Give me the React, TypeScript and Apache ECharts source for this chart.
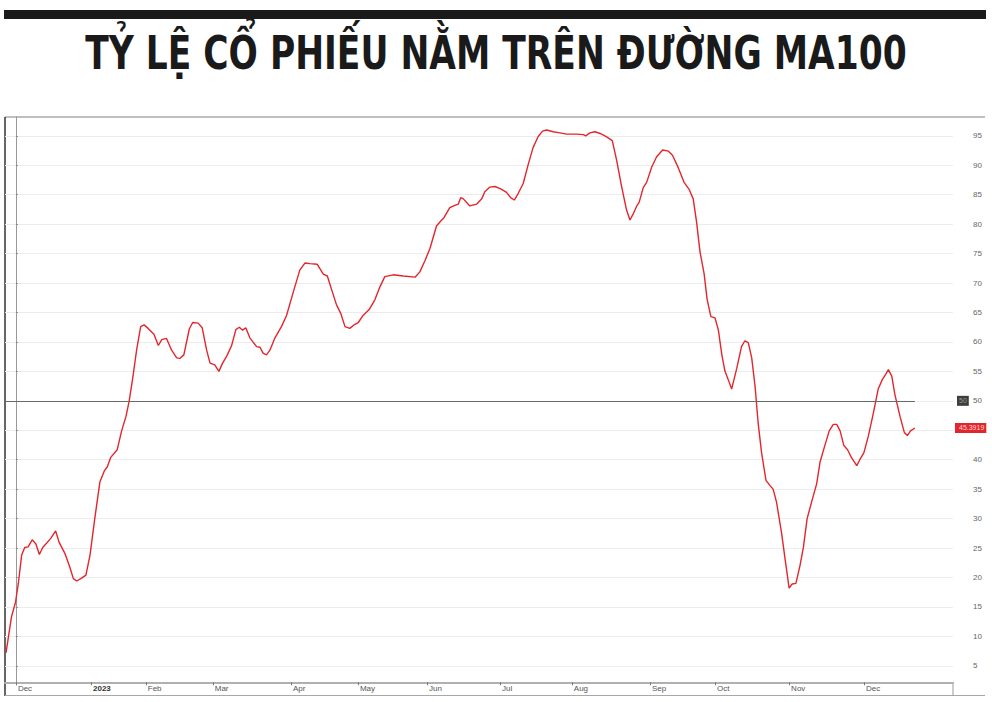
import React, { useEffect, useRef } from "react";
import * as echarts from "echarts";

// Trading-day index (days since 1 Dec 2022) and share of stocks above MA100 (%)
const dayIdx = [
  -2.9, -1.3, -0.1, 0.7, 1.7, 2.6, 3.6, 4.8, 5.9, 6.9, 7.9, 9.0, 10.2, 11.7, 12.7, 14.4, 15.9, 16.9, 17.9, 19.1,
  20.6, 21.8, 23.2, 24.7, 26.0, 26.9, 27.9, 29.8, 31.1, 32.4, 33.3, 34.3, 35.5, 36.7, 37.7, 38.9, 40.6, 41.9, 42.9, 44.3,
  45.8, 47.3, 48.2, 49.4, 51.0, 52.0, 53.6, 54.8, 56.1, 57.1, 58.5, 59.7, 60.8, 62.0, 63.4, 64.7, 65.7, 66.7, 67.6, 68.8,
  70.8, 71.8, 72.7, 73.7, 74.7, 76.2, 78.1, 79.6, 81.6, 83.5, 85.0, 86.5, 88.6, 90.4, 91.6, 92.9, 94.3, 95.5, 96.8, 98.2,
  99.7, 100.7, 102.1, 103.9, 105.6, 107.1, 108.5, 111.0, 113.9, 117.4, 118.8, 120.3, 121.8, 123.7, 124.9, 125.9, 127.6, 129.1, 130.1, 130.8,
  131.6, 133.5, 135.5, 137.0, 137.9, 139.4, 140.9, 142.6, 144.3, 145.5, 146.6, 147.7, 149.2, 150.7, 152.1, 153.6, 154.9, 156.1, 158.0, 160.0,
  162.0, 164.9, 166.9, 167.6, 168.8, 170.3, 171.8, 173.5, 175.4, 176.7, 178.1, 179.6, 180.6, 181.6, 182.6, 183.3, 184.5, 185.5, 187.0, 188.4,
  190.2, 191.9, 193.1, 194.8, 196.5, 198.0, 199.2, 200.2, 201.2, 202.4, 203.3, 204.4, 205.6, 206.6, 207.6, 208.5, 209.5, 210.5, 212.0, 213.4,
  214.4, 215.4, 216.4, 217.4, 218.3, 219.3, 220.6, 221.8, 222.7, 223.7, 225.2, 226.2, 227.4, 228.3, 229.4, 230.6, 231.6, 232.7, 234.0, 235.5,
  236.5, 237.9, 239.2, 240.4, 241.4, 242.4, 243.5, 244.6, 245.8, 247.3, 248.2, 249.4, 250.7, 252.1, 253.6, 254.8, 255.8, 256.6, 257.6, 258.5,
  260.0, 261.3, 262.2, 263.1, 264.4,
];
const pctAboveMA100 = [
  7.2, 13.3, 15.8, 18.9, 23.8, 25.1, 25.2, 26.4, 25.7, 23.9, 25.1, 25.8, 26.6, 27.9, 26.0, 24.1, 21.7, 19.8, 19.4, 19.8,
  20.4, 23.8, 30.0, 36.2, 38.1, 38.8, 40.4, 41.7, 44.9, 47.4, 49.9, 53.6, 58.6, 62.6, 62.9, 62.3, 61.3, 59.4, 60.4, 60.6,
  58.6, 57.3, 57.2, 57.8, 62.2, 63.3, 63.2, 62.4, 58.6, 56.4, 56.1, 55.0, 56.4, 57.6, 59.3, 62.1, 62.5, 62.0, 62.4, 60.7,
  59.2, 59.1, 58.1, 57.8, 58.6, 60.7, 62.6, 64.5, 68.5, 72.2, 73.4, 73.3, 73.2, 71.5, 71.2, 68.8, 66.3, 64.9, 62.6, 62.3,
  63.0, 63.3, 64.5, 65.5, 67.2, 69.4, 71.1, 71.4, 71.2, 71.0, 71.9, 73.8, 75.9, 79.7, 80.5, 81.1, 82.8, 83.2, 83.4, 84.5,
  84.3, 83.1, 83.4, 84.3, 85.5, 86.3, 86.4, 86.0, 85.4, 84.5, 84.1, 85.2, 86.9, 90.2, 93.0, 94.9, 95.8, 96.0, 95.7, 95.5,
  95.3, 95.3, 95.2, 95.0, 95.5, 95.7, 95.4, 94.9, 94.2, 90.8, 86.5, 82.4, 80.7, 81.8, 83.1, 83.7, 86.2, 87.1, 89.7, 91.4,
  92.6, 92.4, 91.7, 89.6, 87.1, 85.9, 84.3, 80.3, 75.3, 71.6, 67.2, 64.3, 64.1, 62.0, 57.9, 55.1, 53.6, 52.0, 55.5, 59.2,
  60.2, 59.9, 57.3, 52.4, 46.2, 41.2, 36.5, 35.6, 35.0, 32.8, 27.5, 23.2, 18.2, 18.9, 19.0, 22.0, 25.1, 30.0, 32.8, 35.9,
  39.6, 42.4, 44.9, 46.0, 46.0, 44.9, 42.4, 41.7, 40.3, 39.0, 40.0, 41.2, 44.0, 47.7, 52.0, 53.6, 54.5, 55.3, 54.2, 51.1,
  47.4, 44.6, 44.1, 44.9, 45.3919,
];

// Month label positions (trading-day index) and labels
const monthIdx = [0, 22.1, 38.2, 57.9, 80.9, 100.6, 120.9, 142.4, 163.5, 186.5, 205.6, 227.4, 249.4];
const monthLabels = ["Dec", "2023", "Feb", "Mar", "Apr", "May", "Jun", "Jul", "Aug", "Sep", "Oct", "Nov", "Dec"];

const yTicks = [5, 10, 15, 20, 25, 30, 35, 40, 45, 50, 55, 60, 65, 70, 75, 80, 85, 90, 95];
// the "45" label is hidden under the last-value tag in the reference
const yLabels = [5, 10, 15, 20, 25, 30, 35, 40, 50, 55, 60, 65, 70, 75, 80, 85, 90, 95];
const refLevel = 50;
const lastValueLabel = "45.3919";

const TITLE = "TỶ LỆ CỔ PHIẾU NẰM TRÊN ĐƯỜNG MA100";

export default function App() {
  const ref = useRef<HTMLDivElement>(null);
  useEffect(() => {
    if (!ref.current) return;
    const chart = echarts.init(ref.current, null, { renderer: "svg" });
    const data = dayIdx.map((d, i) => [d, pctAboveMA100[i]]);
    const lastX = dayIdx[dayIdx.length - 1];
    const lastV = pctAboveMA100[pctAboveMA100.length - 1];
    const xMin = -3.2;
    const font = "'Liberation Sans', Arial, sans-serif";
    const option: any = {
      animation: false,
      backgroundColor: "#ffffff",
      grid: { left: 5, right: 39, top: 117, bottom: 19.7, containLabel: false },
      xAxis: {
        type: "value",
        min: xMin,
        max: 275.6,
        axisLine: { show: true, lineStyle: { color: "#b0b0b0", width: 2 } },
        axisTick: { show: true, customValues: monthIdx, length: 3, lineStyle: { color: "#777" } },
        axisLabel: {
          customValues: monthIdx,
          fontFamily: font,
          fontSize: 8,
          color: "#555",
          margin: 2,
          align: "left",
          padding: [0, 0, 0, 2],
          formatter: (v: number) => {
            const i = monthIdx.findIndex((m) => Math.abs(m - v) < 0.01);
            if (i < 0) return "";
            return monthLabels[i] === "2023" ? "{b|2023}" : monthLabels[i];
          },
          rich: { b: { fontWeight: "bold", fontSize: 8, color: "#333", fontFamily: font } },
        },
        splitLine: { show: false },
      },
      yAxis: {
        type: "value",
        position: "right",
        min: 2.2,
        max: 98.2,
        axisLine: { show: true, lineStyle: { color: "#999" } },
        axisTick: { show: true, customValues: yTicks, length: 2, lineStyle: { color: "#888" } },
        axisLabel: { customValues: yLabels, fontFamily: font, fontSize: 8, color: "#666", margin: 20 },
        splitLine: { show: true, lineStyle: { color: "#ececec", width: 1 } },
      },
      series: [
        {
          type: "line",
          data,
          showSymbol: false,
          symbol: "none",
          smooth: false,
          clip: false,
          lineStyle: { color: "#e3262c", width: 1.4 },
          z: 3,
          markLine: {
            silent: true,
            symbol: "none",
            animation: false,
            lineStyle: { color: "#6a6a6a", width: 1, type: "solid" },
            label: { show: false },
            data: [
              [{ coord: [xMin, refLevel] }, { coord: [lastX, refLevel] }],
              {
                yAxis: refLevel,
                lineStyle: { color: "transparent", width: 0 },
                label: {
                  show: true,
                  position: "end",
                  distance: 4,
                  formatter: String(refLevel),
                  backgroundColor: "#3d3d3d",
                  color: "#9a9a9a",
                  fontFamily: font,
                  fontSize: 7,
                  padding: [2, 2, 1, 2],
                },
              },
              {
                yAxis: lastV,
                lineStyle: { color: "transparent", width: 0 },
                label: {
                  show: true,
                  position: "end",
                  distance: 2,
                  formatter: lastValueLabel,
                  backgroundColor: "#e3262c",
                  color: "#ffd8d8",
                  fontFamily: font,
                  fontSize: 7,
                  padding: [2, 2, 1, 4],
                },
              },
            ],
          },
        },
      ],
      graphic: [
        { type: "rect", shape: { x: 4, y: 10, width: 982, height: 9 }, style: { fill: "#1a1a1a" } },
        {
          type: "text",
          x: 496,
          y: 53,
          scaleX: 0.75,
          style: {
            text: TITLE,
            font: "bold 46px 'DejaVu Sans', sans-serif",
            fill: "#1a1a1a",
            align: "center",
            verticalAlign: "middle",
          },
        },
        { type: "line", shape: { x1: 5, y1: 117, x2: 985, y2: 117 }, style: { stroke: "#a8a8a8", lineWidth: 1.5 } },
        { type: "line", shape: { x1: 5, y1: 117, x2: 5, y2: 696 }, style: { stroke: "#333", lineWidth: 1.5 } },
        { type: "line", shape: { x1: 5, y1: 695.5, x2: 985, y2: 695.5 }, style: { stroke: "#a8a8a8", lineWidth: 1 } },
        { type: "line", shape: { x1: 953, y1: 682, x2: 953, y2: 696 }, style: { stroke: "#999", lineWidth: 1 } },
      ],
    };
    chart.setOption(option);
    return () => chart.dispose();
  }, []);
  return <div ref={ref} style={{ position: "fixed", left: 0, top: 0, width: 992, height: 702 }} />;
}
